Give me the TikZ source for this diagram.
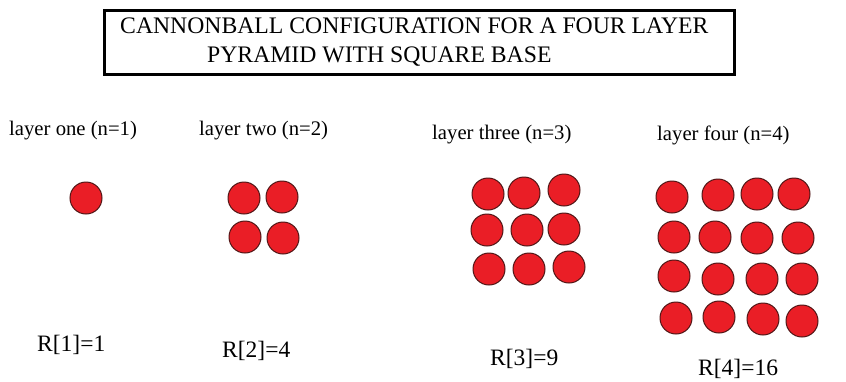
\documentclass[tikz,border=0pt]{standalone}
\usepackage{fontspec}
\setmainfont{Liberation Serif}
\definecolor{ballred}{RGB}{234,30,38}
\definecolor{ballrim}{RGB}{80,22,22}
\tikzset{
  ball/.style={circle, fill=ballred, draw=ballrim, line width=1pt, minimum size=32pt, inner sep=0pt},
  titletext/.style={anchor=base west, inner sep=0pt, font=\fontsize{23.7}{28}\selectfont},
  layertext/.style={anchor=base west, inner sep=0pt, font=\fontsize{20.7}{24}\selectfont},
  rtext/.style={anchor=base west, inner sep=0pt, font=\fontsize{23.5}{28}\selectfont},
}
\begin{document}
\begin{tikzpicture}[x=1pt,y=-1pt]
\useasboundingbox (0,0) rectangle (846,381);
\fill[white] (0,0) rectangle (846,381);
% title box
\node[draw=black, line width=3pt, minimum width=630pt, minimum height=64pt, inner sep=0pt] (titlebox) at (419.5,42.5) {};
\node[titletext] (title1) at (120,33.5) {CANNONBALL CONFIGURATION FOR A FOUR LAYER};
\node[titletext] (title2) at (207,62) {PYRAMID WITH SQUARE BASE};
% layer labels
\node[layertext] (l1) at (9,135) {layer one (n=1)};
\node[layertext] (l2) at (199,135) {layer two (n=2)};
\node[layertext] (l3) at (432,139) {layer three (n=3)};
\node[layertext] (l4) at (657,140) {layer four (n=4)};
% layer one
\node[ball] (a11) at (86,198) {};
% layer two
\node[ball] (b11) at (244,198) {};
\node[ball] (b12) at (282,197) {};
\node[ball] (b21) at (245,237) {};
\node[ball] (b22) at (283,238) {};
% layer three
\node[ball] (c11) at (488,194) {};
\node[ball] (c12) at (524,193) {};
\node[ball] (c13) at (564,190) {};
\node[ball] (c21) at (487,230) {};
\node[ball] (c22) at (527,230) {};
\node[ball] (c23) at (564,229) {};
\node[ball] (c31) at (489,269) {};
\node[ball] (c32) at (529,269) {};
\node[ball] (c33) at (569,267) {};
% layer four
\node[ball] (d11) at (672,197) {};
\node[ball] (d12) at (718,195) {};
\node[ball] (d13) at (757,194) {};
\node[ball] (d14) at (794,194) {};
\node[ball] (d21) at (674,237) {};
\node[ball] (d22) at (715,237) {};
\node[ball] (d23) at (757,238) {};
\node[ball] (d24) at (798,238) {};
\node[ball] (d31) at (674,276) {};
\node[ball] (d32) at (718,279) {};
\node[ball] (d33) at (762,279) {};
\node[ball] (d34) at (802,279) {};
\node[ball] (d41) at (676,318) {};
\node[ball] (d42) at (719,317) {};
\node[ball] (d43) at (763,319) {};
\node[ball] (d44) at (802,321) {};
% results
\node[rtext] (r1) at (37,351) {R[1]=1};
\node[rtext] (r2) at (222,357) {R[2]=4};
\node[rtext] (r3) at (490,365) {R[3]=9};
\node[rtext] (r4) at (698,375) {R[4]=16};
\end{tikzpicture}
\end{document}
